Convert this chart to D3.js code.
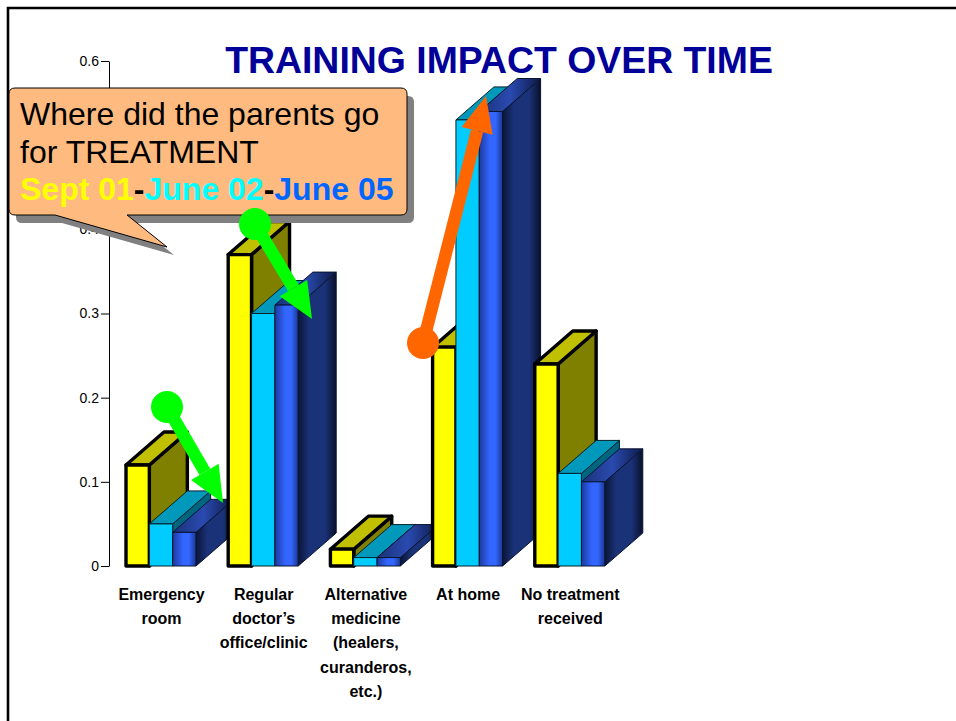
<!DOCTYPE html>
<html><head><meta charset="utf-8">
<script src="https://cdnjs.cloudflare.com/ajax/libs/d3/7.8.5/d3.min.js"></script>
<style>html,body{margin:0;padding:0;background:#fff}svg{display:block}text{font-family:"Liberation Sans",Arial,sans-serif}</style>
</head><body><svg id="c" width="956" height="721"></svg>
<script>
const categories = ["Emergency room","Regular doctor's office/clinic","Alternative medicine (healers, curanderos, etc.)","At home","No treatment received"];
const categoryLines = [["Emergency","room"],["Regular","doctor’s","office/clinic"],["Alternative","medicine","(healers,","curanderos,","etc.)"],["At home"],["No treatment","received"]];
const seriesNames = ["Sept 01","June 02","June 05"];
const sept01 = [0.12,0.37,0.02,0.26,0.24];
const june02 = [0.05,0.30,0.01,0.53,0.11];
const june05 = [0.04,0.31,0.01,0.54,0.10];
const tickValues = [0,0.1,0.2,0.3,0.4,0.5,0.6];
const titleText = "TRAINING IMPACT OVER TIME";

const svg = d3.select("#c");
const y = d3.scaleLinear().domain([0,0.6]).range([566,61]);
const x = d3.scaleBand().domain(categories).range([126,637]);
const xs = d3.scaleBand().domain(seriesNames).range([0,70]);
const depth = {dx:38, dy:-33};
const defs = svg.append("defs");
function grad(id, stops, x2=1, y2=0){
  const g = defs.append("linearGradient").attr("id",id).attr("x1",0).attr("y1",0).attr("x2",x2).attr("y2",y2);
  stops.forEach(s=>g.append("stop").attr("offset",s[0]).attr("stop-color",s[1]));
}
grad("bFront",[[0,"#1c3a9c"],[0.45,"#3366ff"],[0.7,"#3366ff"],[1,"#1a3690"]]);
grad("bSide",[[0,"#0a1538"],[0.3,"#1a3278"],[0.7,"#1a3278"],[1,"#08102a"]]);
grad("bTop",[[0,"#1a3278"],[0.5,"#2a4ab0"],[1,"#0c1a48"]]);

const styles = [
 {front:"#ffff00",top:"#c0c000",side:"#808000",sw:3.4,stroke:"#000"},
 {front:"#00ccff",top:"#0099bb",side:"#006680",sw:1,stroke:"#04222c"},
 {front:"url(#bFront)",top:"url(#bTop)",side:"url(#bSide)",sw:1,stroke:"#0a1430"}
];
const valuesBySeries = [sept01,june02,june05];

const rows = categories.flatMap((c,i)=>seriesNames.map((s,k)=>({c,s,k,v:valuesBySeries[k][i]})));
const bars = svg.append("g").selectAll("g").data(rows).join("g");
bars.each(function(d){
  const g = d3.select(this), st = styles[d.k];
  const x0 = x(d.c)+xs(d.s), x1 = x0+xs.bandwidth(), y0=y(0), yt=y(d.v);
  const {dx,dy} = depth;
  const poly = pts => g.append("polygon").attr("points",pts.map(p=>p.join(",")).join(" ")).attr("stroke",st.stroke).attr("stroke-width",st.sw).attr("stroke-linejoin","round");
  poly([[x1,yt],[x1+dx,yt+dy],[x1+dx,y0+dy],[x1,y0]]).attr("fill",st.side);
  poly([[x0,yt],[x0+dx,yt+dy],[x1+dx,yt+dy],[x1,yt]]).attr("fill",st.top);
  poly([[x0,yt],[x1,yt],[x1,y0],[x0,y0]]).attr("fill",st.front);
});

const axis = svg.append("g").attr("transform","translate(109,0)")
  .call(d3.axisLeft(y).tickValues(tickValues).tickSize(8).tickSizeOuter(0).tickPadding(2).tickFormat(d=>d===0?"0":d3.format(".1f")(d)));
axis.selectAll("path,line").attr("stroke","#000").attr("stroke-width",1);
axis.selectAll("text").attr("font-size",14).attr("fill","#000").style("font-family",'"Liberation Sans",Arial,sans-serif');

const labels = svg.append("g").selectAll("text").data(categories).join("text")
  .attr("text-anchor","middle").attr("font-weight","bold").attr("font-size",16).attr("fill","#000")
  .attr("transform",d=>`translate(${x(d)+35.5},0)`);
labels.each(function(d,i){
  d3.select(this).selectAll("tspan").data(categoryLines[i]).join("tspan")
    .attr("x",0).attr("y",(t,j)=>600+j*24.2).text(t=>t);
});

svg.append("text").attr("x",499).attr("y",73).attr("text-anchor","middle").attr("font-weight","bold")
  .attr("font-size",37.4).attr("fill","#000099").text(titleText);

// slide frame
svg.append("path").attr("d","M8,721V8H956").attr("fill","none").attr("stroke","#000").attr("stroke-width",2.6);

// callout
const calloutPath = "M15,88H401Q407,88 407,94V209Q407,215 401,215H127L167,247L55,215H15Q9,215 9,209V94Q9,88 15,88Z";
svg.append("path").attr("d",calloutPath).attr("transform","translate(7,8)").attr("fill","#808080");
svg.append("path").attr("d",calloutPath).attr("fill","#ffbb7f").attr("stroke","#000").attr("stroke-width",1);
const call = svg.append("g").attr("font-size",32);
call.append("text").attr("x",20).attr("y",125).attr("fill","#000").text("Where did the parents go");
call.append("text").attr("x",20).attr("y",163).attr("fill","#000").text("for TREATMENT");
const t3 = call.append("text").attr("x",20).attr("y",200).attr("font-weight","bold").attr("font-size",32);
[["Sept 01","#ffff00"],["-","#000"],["June 02","#00ffff"],["-","#000"],["June 05","#0066ff"]].forEach(p=>t3.append("tspan").attr("fill",p[1]).text(p[0]));

// arrows
function arrow(a,b,col){
  const g = svg.append("g");
  const ang = Math.atan2(b[1]-a[1],b[0]-a[0]), L=36, W=16;
  const ux=Math.cos(ang), uy=Math.sin(ang);
  const base=[b[0]-ux*L,b[1]-uy*L];
  g.append("line").attr("x1",a[0]).attr("y1",a[1]).attr("x2",base[0]).attr("y2",base[1]).attr("stroke",col).attr("stroke-width",12.5);
  g.append("circle").attr("cx",a[0]).attr("cy",a[1]).attr("r",16).attr("fill",col);
  g.append("polygon").attr("fill",col).attr("points",[[b[0],b[1]],[base[0]-uy*W,base[1]+ux*W],[base[0]+uy*W,base[1]-ux*W]].map(p=>p.join(",")).join(" "));
}
arrow([167,407],[223,503],"#00ff00");
arrow([255,224],[312,319],"#00ff00");
arrow([423,343],[486,96],"#ff6600");
</script></body></html>
